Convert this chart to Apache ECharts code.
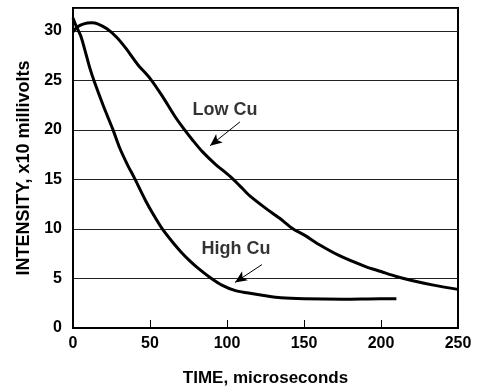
<!DOCTYPE html>
<html>
<head>
<meta charset="utf-8">
<script src="https://cdn.jsdelivr.net/npm/echarts@6/dist/echarts.min.js"></script>
<style>
html,body{margin:0;padding:0;background:#fff;}
#chart{width:481px;height:392px;}
</style>
</head>
<body>
<div id="chart"></div>
<script>
// ---- data ----
var lowCuTime  = [0, 3, 7, 12, 16, 22, 28, 34, 42, 50, 58, 66, 72, 78, 84, 92, 102, 108, 115, 125, 134, 143, 150, 160, 173, 190, 200, 210, 220, 235, 250];
var lowCuValue = [29.9, 30.4, 30.7, 30.8, 30.7, 30.2, 29.4, 28.3, 26.6, 25.2, 23.4, 21.4, 20.1, 18.9, 17.8, 16.6, 15.3, 14.4, 13.3, 12.1, 11.1, 10.0, 9.4, 8.4, 7.3, 6.2, 5.7, 5.2, 4.8, 4.3, 3.9];
var highCuTime  = [0, 2, 5, 8, 11, 14, 20, 26, 30, 35, 40, 47, 52, 58, 65, 70, 75, 80, 89, 97, 105, 113, 125, 135, 150, 175, 200, 210];
var highCuValue = [31.3, 30.5, 29.5, 27.9, 26.2, 24.8, 22.3, 20.0, 18.3, 16.6, 15.1, 12.9, 11.5, 10.0, 8.6, 7.7, 6.9, 6.2, 5.1, 4.3, 3.8, 3.55, 3.25, 3.05, 2.95, 2.9, 2.95, 2.95];
var xTicks = [0, 50, 100, 150, 200, 250];
var yTicks = [0, 5, 10, 15, 20, 25, 30];
var seriesNames = ['Low Cu', 'High Cu'];
// annotation label anchors [time, value] and arrow [from, to]
var lowCuLabelAt  = [98.7, 22.0];
var highCuLabelAt = [105.8, 8.0];
var lowCuArrow  = [[108.4, 20.8], [89, 18.4]];
var highCuArrow = [[122.7, 6.4], [105.2, 4.6]];

function pairs(xs, ys) { return xs.map(function (x, i) { return [x, ys[i]]; }); }

var chart = echarts.init(document.getElementById('chart'), null, {renderer: 'canvas'});
var FONT = 'Liberation Sans, Arial, sans-serif';

function arrowLine(a) {
  return {
    silent: true,
    animation: false,
    symbol: ['none', 'arrow'],
    symbolSize: [8, 12],
    lineStyle: {color: '#000', width: 1, type: 'solid'},
    label: {show: false},
    data: [[{coord: a[0]}, {coord: a[1]}]]
  };
}

chart.setOption({
  animation: false,
  backgroundColor: '#fff',
  grid: {left: 73, right: 23, top: 8, bottom: 61, show: true, borderColor: '#000', borderWidth: 2, backgroundColor: 'transparent'},
  xAxis: {
    type: 'value', min: xTicks[0], max: xTicks[xTicks.length - 1], interval: 50,
    name: 'TIME, microseconds', nameLocation: 'middle', nameGap: 42,
    nameTextStyle: {fontFamily: FONT, fontSize: 17, fontWeight: 'bold', color: '#000'},
    axisLine: {show: true, lineStyle: {color: '#000', width: 2}},
    axisTick: {show: true, inside: true, length: 8, lineStyle: {color: '#000', width: 1}},
    axisLabel: {fontFamily: FONT, fontSize: 16, fontWeight: 'bold', color: '#000', margin: 8},
    splitLine: {show: false}
  },
  yAxis: {
    type: 'value', min: yTicks[0], max: 32.3, interval: 5,
    name: 'INTENSITY, x10 millivolts', nameLocation: 'middle', nameGap: 40,
    nameTextStyle: {fontFamily: FONT, fontSize: 18, fontWeight: 'bold', color: '#000'},
    axisLine: {show: true, lineStyle: {color: '#000', width: 2}},
    axisTick: {show: false},
    axisLabel: {fontFamily: FONT, fontSize: 16, fontWeight: 'bold', color: '#000', margin: 11,
      formatter: function (v) { return yTicks.indexOf(v) >= 0 ? String(v) : ''; }},
    splitLine: {show: true, lineStyle: {color: '#222', width: 1}}
  },
  series: [
    {
      name: seriesNames[0], type: 'line', data: pairs(lowCuTime, lowCuValue),
      showSymbol: false, smooth: 0.3,
      lineStyle: {color: '#000', width: 3}, z: 3,
      markLine: arrowLine(lowCuArrow)
    },
    {
      name: seriesNames[1], type: 'line', data: pairs(highCuTime, highCuValue),
      showSymbol: false, smooth: 0.3,
      lineStyle: {color: '#000', width: 3}, z: 3,
      markLine: arrowLine(highCuArrow)
    },
    {
      type: 'scatter', symbolSize: 0, silent: true, z: 4,
      data: [lowCuLabelAt.concat([seriesNames[0]]), highCuLabelAt.concat([seriesNames[1]])],
      label: {show: true, position: 'inside', formatter: function (p) { return p.value[2]; },
        fontFamily: FONT, fontSize: 18, fontWeight: 'bold', color: '#000'}
    }
  ]
});
</script>
</body>
</html>
